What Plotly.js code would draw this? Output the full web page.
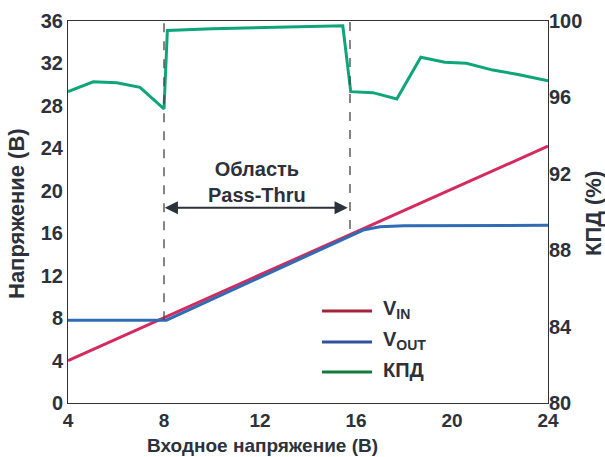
<!DOCTYPE html>
<html><head><meta charset="utf-8">
<script src="https://cdn.plot.ly/plotly-3.0.1.min.js"></script>
<style>html,body{margin:0;padding:0;background:#fff}#c{width:605px;height:457px}</style>
</head><body><div id="c"></div>
<script>
const vinX = [4, 24];
const vinY = [4, 24.2];
const voutX = [4, 8.1, 16.3, 17, 18, 24];
const voutY = [7.8, 7.8, 16.3, 16.6, 16.7, 16.75];
const effX = [4, 5.05, 6.03, 7.0, 8.0, 8.14, 10, 12, 14, 15.45, 15.78, 16.7, 17.7, 18.7, 19.7, 20.6, 21.7, 22.7, 24];
const effY = [96.3, 96.82, 96.77, 96.53, 95.4, 99.5, 99.6, 99.65, 99.72, 99.75, 96.3, 96.25, 95.92, 98.1, 97.84, 97.79, 97.43, 97.21, 96.87];
const boundX = [8.0, 15.75];
const boundTopY = [7.8, 16.4];
const leftTicks = [0,4,8,12,16,20,24,28,32,36];
const rightTicks = [80,84,88,92,96,100];
const xTicks = [4,8,12,16,20,24];
const legendNames = ['V<sub>IN</sub>', 'V<sub>OUT</sub>', 'КПД'];
const legendColors = ['#a3233a', '#2f52a0', '#137a3c'];
const xTitle = 'Входное напряжение (В)';
const yTitle = 'Напряжение (В)';
const y2Title = 'КПД (%)';
const regionLabel = 'Область<br>Pass-Thru';

const F = 'Liberation Sans, Arial, sans-serif';
const dark = '#2c313b';
const W = 480, H = 382, L = 68, T = 21;
const px = v => (v - L) / W;
const py = v => 1 - (v - T) / H;
const traces = [
  {x: vinX, y: vinY, mode: 'lines', line: {color: '#d42a5e', width: 3}, yaxis: 'y', showlegend: false},
  {x: voutX, y: voutY, mode: 'lines', line: {color: '#2f6cb5', width: 3}, yaxis: 'y', showlegend: false},
  {x: effX, y: effY, mode: 'lines', line: {color: '#0ea57a', width: 3}, yaxis: 'y2', showlegend: false}
];
const shapes = [];
for (let i = 0; i < boundX.length; i++) {
  shapes.push({type: 'line', xref: 'x', yref: 'y', x0: boundX[i], x1: boundX[i], y0: boundTopY[i], y1: 36, line: {color: '#444', width: 1.3, dash: 'dash'}});
}
const annotations = [
  {x: boundX[0] + 0.03, y: 18.4, ax: boundX[1] - 0.03, ay: 18.4, xref: 'x', yref: 'y', axref: 'x', ayref: 'y', text: '', showarrow: true, arrowhead: 2, arrowside: 'end+start', arrowsize: 1.2, arrowwidth: 2.2, arrowcolor: dark},
  {x: (boundX[0] + boundX[1]) / 2, y: py(182), xref: 'x', yref: 'paper', xanchor: 'center', yanchor: 'middle', text: '<b>' + regionLabel + '</b>', showarrow: false, font: {family: F, size: 20, color: dark}},
  {xref: 'paper', yref: 'paper', x: px(17), y: py(214), xanchor: 'center', yanchor: 'middle', text: '<b>' + yTitle + '</b>', textangle: -90, showarrow: false, font: {family: F, size: 22, color: dark}},
  {xref: 'paper', yref: 'paper', x: px(594), y: py(214), xanchor: 'center', yanchor: 'middle', text: '<b>' + y2Title + '</b>', textangle: -90, showarrow: false, font: {family: F, size: 22, color: dark}},
  {xref: 'paper', yref: 'paper', x: px(262), y: py(446), xanchor: 'center', yanchor: 'middle', text: '<b>' + xTitle + '</b>', showarrow: false, font: {family: F, size: 19, color: dark}}
];
const legY = [311, 342, 372];
for (let i = 0; i < 3; i++) {
  const p = py(legY[i]);
  shapes.push({type: 'line', xref: 'paper', yref: 'paper', x0: px(322), x1: px(372), y0: p, y1: p, line: {color: legendColors[i], width: 3}});
  annotations.push({xref: 'paper', yref: 'paper', x: px(381), y: p + 0.004, xanchor: 'left', yanchor: 'middle', text: '<b>' + legendNames[i] + '</b>', showarrow: false, font: {family: F, size: 20, color: dark}});
}
const tf = s => ({family: F, size: s, color: dark, weight: 'bold'});
const layout = {
  width: 605, height: 457,
  margin: {l: 68, r: 57, t: 21, b: 54},
  paper_bgcolor: '#fff', plot_bgcolor: '#fff',
  showlegend: false,
  xaxis: {range: [4, 24], tickvals: xTicks, ticks: '', showgrid: false, zeroline: false, showline: true, linecolor: '#333', linewidth: 1, mirror: true, tickfont: tf(19)},
  yaxis: {range: [0, 36], tickvals: leftTicks, ticks: '', showgrid: false, zeroline: false, showline: true, linecolor: '#333', linewidth: 1, mirror: true, tickfont: tf(20)},
  yaxis2: {range: [80, 100], tickvals: rightTicks, overlaying: 'y', side: 'right', ticks: '', showgrid: false, zeroline: false, showline: false, tickfont: tf(20)},
  shapes: shapes,
  annotations: annotations
};
Plotly.newPlot('c', traces, layout, {displayModeBar: false, staticPlot: true});
</script></body></html>
